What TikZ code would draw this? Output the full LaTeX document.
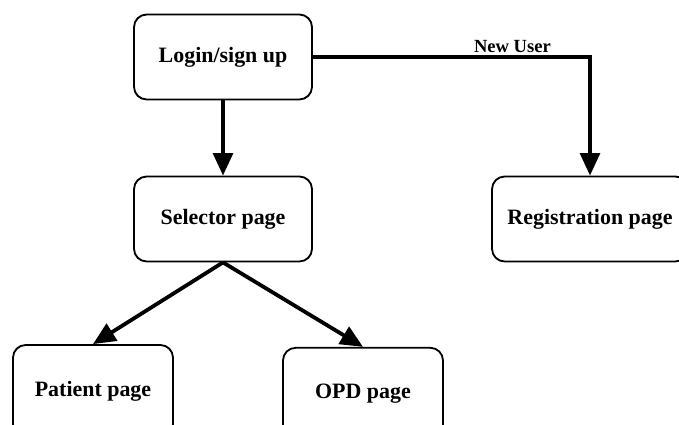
\documentclass[tikz,border=0pt]{standalone}
\usepackage{fontspec}
\setmainfont{Liberation Serif}
\usetikzlibrary{arrows.meta,positioning}

\begin{document}
\begin{tikzpicture}[
  page/.style={draw=black,rounded corners=9pt,line width=1.3pt,minimum width=4.45cm,minimum height=2.125cm,inner sep=0pt,font=\fontsize{15.6}{18}\selectfont\bfseries,align=center},
  smallpage/.style={page,minimum width=4cm,minimum height=2.3cm},
  flow/.style={draw=black,line width=2.7pt,-{Triangle[width=14pt,length=16pt]}},
  flowlabel/.style={font=\fontsize{13.2}{15}\selectfont\bfseries,inner sep=2pt}
]
\useasboundingbox (0,0) rectangle (16.975,10.625);
\node[page] (login) at (5.575,9.2) {Login/sign up};
\node[page] (selector) at (5.575,5.15) {Selector page};
\node[page,minimum width=4.9cm] (registration) at (14.75,5.15) {Registration page};
\node[smallpage] (patient) at (2.325,0.85) {Patient page};
\node[smallpage] (opd) at (9.075,0.78) {OPD page};
\draw[flow] (login.south) -- (selector.north);
\draw[flow] (login.east) -| node[flowlabel,above,pos=0.36] {New User} (registration.north);
\draw[flow] (selector.south) -- (patient.north);
\draw[flow] (selector.south) -- (opd.north);
\end{tikzpicture}
\end{document}
